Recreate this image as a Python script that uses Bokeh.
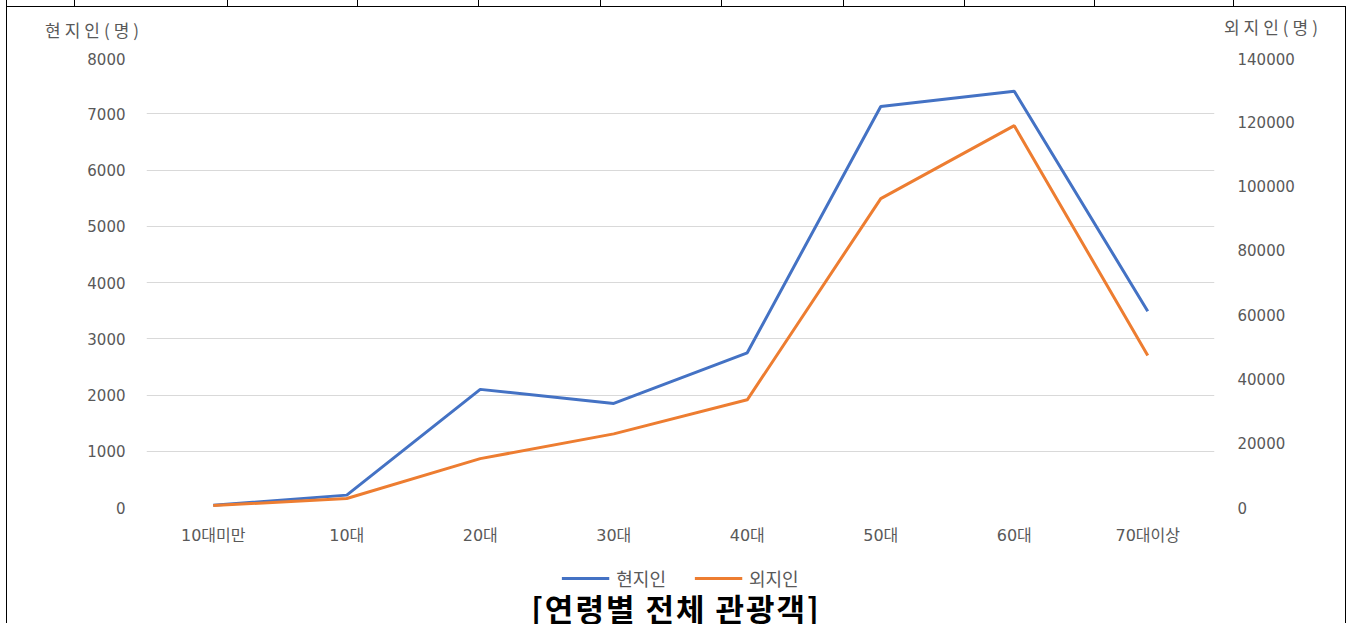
from bokeh.plotting import figure
from bokeh.models import (FactorRange, Range1d, LinearAxis, SingleIntervalTicker,
                          NumeralTickFormatter, Legend, LegendItem, Div)
from bokeh.layouts import column
from bokeh.embed import file_html
from bokeh.resources import INLINE

ages = ["10대미만", "10대", "20대", "30대", "40대", "50대", "60대", "70대이상"]
local = [40, 220, 2100, 1850, 2750, 7130, 7400, 3490]
visitors = [600, 2800, 15200, 22900, 33500, 96100, 118800, 47300]

left_title = "현지인(명)"
right_title = "외지인(명)"
chart_title = "[연령별 전체 관광객]"
series_names = ["현지인", "외지인"]

FONT = "DejaVu Sans, Noto Sans CJK KR"
KFONT = "Noto Sans CJK KR"
GRAY = "#595959"
BLUE = "#4472C4"
ORANGE = "#ED7D31"
W = 1338
NO_MARGIN = (0, 0, 0, 0)

# top row of the surrounding table (only a sliver of it shows) + axis titles
cells = [68, 153, 130, 121, 122, 121, 122, 121, 130, 139]
lines = "".join(
    '<div style="width:%dpx;height:6px;border-right:1px solid #000;box-sizing:border-box;flex:none"></div>' % w
    for w in cells)
top_html = (
    '<div style="position:relative;width:%dpx;height:45px;font-family:\'%s\';font-size:17px;color:%s">'
    '<div style="position:absolute;top:-7px;left:-1px;display:flex;height:6px;border-left:1px solid #000">%s</div>'
    '<div style="position:absolute;left:38px;top:11px;letter-spacing:4px">%s</div>'
    '<div style="position:absolute;right:23px;top:8px;letter-spacing:4px">%s</div>'
    '</div>' % (W, KFONT, GRAY, lines, left_title, right_title))
top = Div(text=top_html, width=W, height=45, margin=NO_MARGIN)

p = figure(
    width=W, height=500,
    x_range=FactorRange(*ages, range_padding=0),
    y_range=Range1d(0, 8000),
    toolbar_location=None,
    output_backend="svg",
    min_border_left=139, min_border_right=131,
    min_border_top=5, min_border_bottom=45)
p.outline_line_color = None
p.extra_y_ranges = {"right": Range1d(0, 140000)}

p.line(ages, local, line_width=3, line_color=BLUE)
p.line(ages, visitors, line_width=3, line_color=ORANGE, y_range_name="right")

p.yaxis.ticker = SingleIntervalTicker(interval=1000)
raxis = LinearAxis(y_range_name="right", ticker=SingleIntervalTicker(interval=20000),
                   formatter=NumeralTickFormatter(format="0"))
p.add_layout(raxis, "right")

for ax in [p.xaxis[0], p.yaxis[0], raxis]:
    ax.axis_line_color = None
    ax.major_tick_line_color = None
    ax.minor_tick_line_color = None
    ax.major_tick_out = 0
    ax.minor_tick_out = 0
    ax.major_label_text_color = GRAY
    ax.major_label_text_font = FONT
    ax.major_label_text_font_size = "15px"
p.yaxis[0].major_label_standoff = 21
raxis.major_label_standoff = 23
p.xaxis.major_label_text_font_size = "16px"
p.xaxis.major_label_standoff = 18

p.xgrid.grid_line_color = None
p.ygrid.grid_line_color = "#D9D9D9"

# legend row: its own small frame so nothing is clipped; the series lie
# outside this frame's y range, only their legend samples show
lg = figure(width=W, height=52, toolbar_location=None, output_backend="svg",
            x_range=FactorRange(*ages), y_range=Range1d(-2, -1),
            x_axis_type=None, y_axis_type=None, min_border=0)
lg.outline_line_color = None
lg.grid.visible = False
k1 = lg.line(ages, local, line_width=3, line_color=BLUE)
k2 = lg.line(ages, visitors, line_width=3, line_color=ORANGE)
legend = Legend(items=[LegendItem(label=series_names[0], renderers=[k1]),
                       LegendItem(label=series_names[1], renderers=[k2])],
                orientation="horizontal", location="center",
                label_text_font=KFONT, label_text_font_size="18px",
                label_text_color=GRAY, glyph_width=48, glyph_height=20,
                label_standoff=7, spacing=28, padding=0, margin=0,
                border_line_color=None, background_fill_alpha=0)
lg.add_layout(legend)

title = Div(text='<div style="width:%dpx;text-align:center;font-family:\'%s\';font-size:31px;'
                 'font-weight:bold;line-height:30px;letter-spacing:2px;color:#000">%s</div>'
                 % (W, KFONT, chart_title),
            width=W, height=30, margin=NO_MARGIN, styles={"margin-top": "-11px"})

page = column(top, p, lg, title,
              styles={"border-top": "1px solid #000", "border-left": "1px solid #000",
                      "border-right": "1px solid #000", "margin-left": "6px",
                      "margin-top": "6px"})

open("out.html", "w").write(file_html(page, INLINE))
